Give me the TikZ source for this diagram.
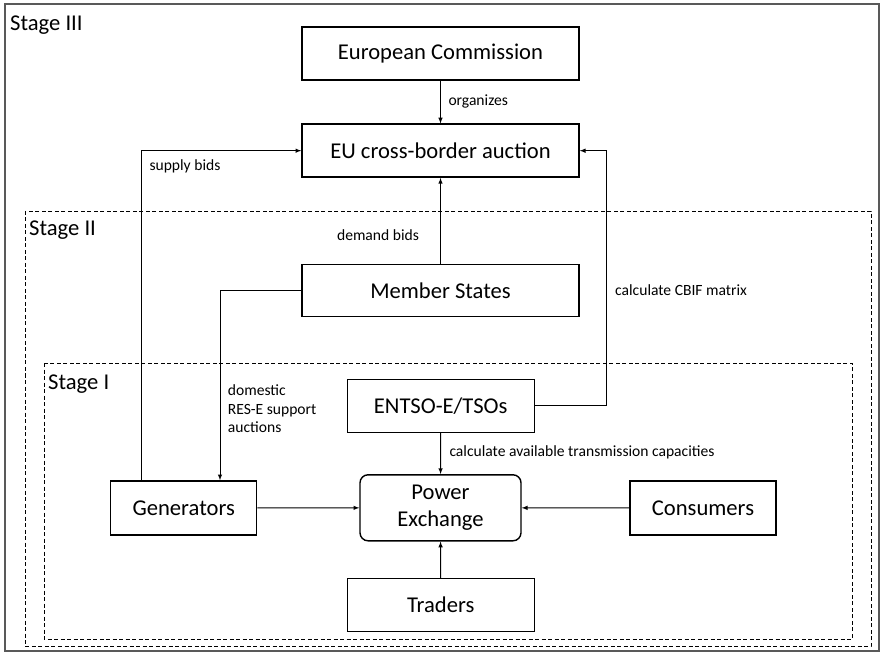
\documentclass[tikz,border=0pt]{standalone}
\usepackage{fontspec}
\setmainfont{Carlito}
\usetikzlibrary{arrows}

\tikzset{
  stagebox/.style={draw, line width=1.4pt, inner sep=0pt, align=center,
    font=\fontsize{22.6}{27.5}\selectfont},
  small/.style={font=\fontsize{15.6}{18.5}\selectfont, inner sep=0pt},
  stagelbl/.style={font=\fontsize{22.6}{27}\selectfont, inner sep=0pt, anchor=west},
  area/.style={draw, line width=0.8pt, dash pattern=on 4pt off 2.5pt},
  flow/.style={-latex, line width=1pt},
}

\begin{document}
\begin{tikzpicture}[x=1pt,y=-1pt]
\useasboundingbox (0,0) rectangle (881,652);
% stages
\draw[black!65, line width=1.5pt] (5,4) rectangle (879,651);
\draw[area] (25,211) rectangle (871,646);
\draw[area] (44,363) rectangle (852,639);
\node[stagelbl] (s3) at (10,25) {Stage III};
\node[stagelbl] (s2) at (29,230) {Stage II};
\node[stagelbl] (s1) at (48,384) {Stage I};

% actors
\node[stagebox, minimum width=277pt, minimum height=53pt] (ec) at (440.5,53.7) {European Commission};
\node[stagebox, minimum width=277pt, minimum height=53pt] (eu) at (440.5,150.7) {EU cross-border auction};
\node[stagebox, minimum width=277pt, minimum height=52pt] (ms) at (440.5,290.5) {Member States};
\node[stagebox, minimum width=187pt, minimum height=53pt] (tso) at (440.7,405.8) {ENTSO-E/TSOs};
\node[stagebox, rounded corners=8pt, minimum width=161pt, minimum height=66pt] (px) at (440.5,507.8) {Power\\Exchange};
\node[stagebox, minimum width=187pt, minimum height=53pt] (tr) at (440.7,605) {Traders};
\node[stagebox, minimum width=146pt, minimum height=54pt] (gen) at (183.7,508) {Generators};
\node[stagebox, minimum width=146pt, minimum height=54pt] (con) at (703,508) {Consumers};

% flows
\draw[flow] (ec) -- (eu);
\draw[flow] (ms) -- (eu);
\draw[flow] ([xshift=-42.4pt]gen.north) |- (eu.west);
\draw[flow] (ms.west) -| ([xshift=36.3pt]gen.north);
\draw[flow] (tso.east) -- ++(71.4,0) |- (eu.east);
\draw[flow] (tso) -- (px);
\draw[flow] (gen) -- (px);
\draw[flow] (con) -- (px);
\draw[flow] (tr) -- (px);

% labels
\node[small, anchor=west] (l1) at (448.3,101) {organizes};
\node[small, anchor=west] (l2) at (149.3,166) {supply bids};
\node[small] (l3) at (378,235) {demand bids};
\node[small, anchor=west, align=left] (l4) at (227.7,409) {domestic\\RES-E support\\auctions};
\node[small, anchor=west] (l5) at (615,290) {calculate CBIF matrix};
\node[small, anchor=west] (l6) at (449.3,452) {calculate available transmission capacities};
\end{tikzpicture}
\end{document}
